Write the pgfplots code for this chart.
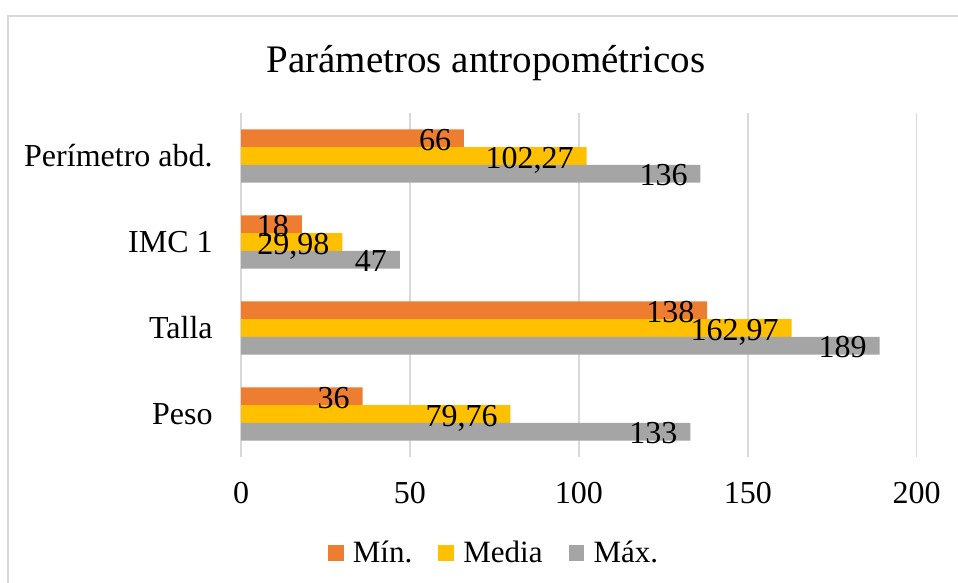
\documentclass[border=0pt]{standalone}
\usepackage{fontspec}
\setmainfont{Liberation Serif}
\usepackage{pgfplots}
\pgfplotsset{compat=1.18}
\definecolor{cmin}{HTML}{ED7D31}
\definecolor{cmed}{HTML}{FFC000}
\definecolor{cmax}{HTML}{A5A5A5}
\definecolor{gridc}{HTML}{D9D9D9}
\begin{document}
\begin{tikzpicture}
\useasboundingbox (0,0) rectangle (479pt,-291.5pt);
\fill[white] (0,0) rectangle (479pt,-291.5pt);
\draw[gridc, line width=0.75pt] (4pt,-300pt) -- (4pt,-8pt) -- (485pt,-8pt);
\node[anchor=base, font=\fontsize{19.5}{22}\selectfont] at (243pt,-36.2pt) {Parámetros antropométricos};
\begin{axis}[
  at={(120.5pt,-228.5pt)}, anchor=south west,
  scale only axis, width=337.85pt, height=172pt,
  xbar, bar width=8.85pt,
  xmin=0, xmax=200, ymin=-0.5, ymax=3.5,
  axis line style={draw=none},
  xtick={0,50,100,150,200}, xticklabels={0,50,100,150,200},
  ytick={0,1,2,3}, yticklabels={Peso,Talla,IMC 1,Perímetro abd.},
  major tick length=0pt,
  xmajorgrids, major grid style={gridc, line width=0.75pt},
  xticklabel style={font=\fontsize{16}{19}\selectfont, anchor=north, inner sep=0pt, yshift=-12.5pt},
  yticklabel style={font=\fontsize{16}{19}\selectfont, anchor=east, inner sep=0pt, xshift=-14pt},
  nodes near coords={\pgfmathprintnumber[assume math mode=true,use comma,fixed,precision=2,1000 sep={}]{\pgfplotspointmeta}},
  every node near coord/.append style={anchor=east, inner sep=0pt, xshift=-6.25pt, yshift=-0.75pt, text depth=0pt, font=\fontsize{16}{19}\selectfont, black},
  legend columns=3,
  legend style={at={(0.373,-0.279)}, anchor=center, draw=none, fill=none,
    inner sep=0pt,
    nodes={inner sep=0pt, anchor=west, font=\fontsize{15.5}{18}\selectfont},
    /tikz/every odd column/.append style={column sep=4.65pt},
    /tikz/every even column/.append style={column sep=13pt}},
  legend image code/.code={\fill[#1] (0pt,-3.92pt) rectangle (7.85pt,3.92pt);},
]
\addplot[fill=cmin, draw=none, bar shift=8.85pt] coordinates {(36,0) (138,1) (18,2) (66,3)};
\addplot[fill=cmed, draw=none, bar shift=0pt] coordinates {(79.76,0) (162.97,1) (29.98,2) (102.27,3)};
\addplot[fill=cmax, draw=none, bar shift=-8.85pt] coordinates {(133,0) (189,1) (47,2) (136,3)};
\legend{Mín.,Media,Máx.}
\end{axis}
\end{tikzpicture}
\end{document}
